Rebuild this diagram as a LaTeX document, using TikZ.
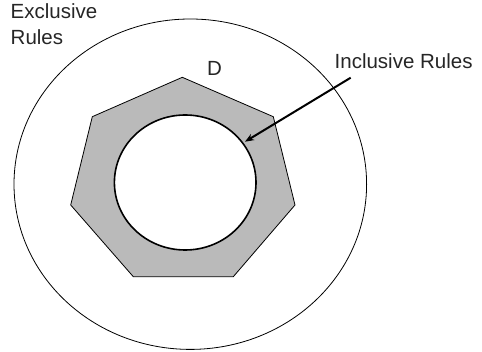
\documentclass[tikz,border=0pt]{standalone}
\usepackage{fontspec}
\setmainfont{Liberation Sans}
\usetikzlibrary{arrows.meta}

\tikzset{
  rulelabel/.style={inner sep=0pt, font=\fontsize{20.5}{25.3}\selectfont, align=left, text=black!85},
  zone/.style={draw, line width=0.8pt},
  band/.style={draw, line width=0.8pt, fill=black!27},
  core/.style={draw, line width=1.6pt, fill=white},
  pointer/.style={-{Stealth[length=9pt, width=7pt]}, line width=2pt}
}

\begin{document}
\begin{tikzpicture}[x=1pt, y=-1pt, >=Stealth]

    \useasboundingbox (0,0) rectangle (482,352);

    % outer region: exclusive rules
    \draw[zone] (190.3,184.2) ellipse [x radius=176.3, y radius=165.2];

    % shaded heptagon D
    \draw[band] (182.3,77.3) -- (273.3,116.7) -- (295,205) -- (233.3,276.7)
        -- (133.3,276.7) -- (70.7,205) -- (92.3,116.7) -- cycle;

    % inner circle
    \draw[core] (185.2,182.5) ellipse [x radius=70.8, y radius=67.5];

    % labels
    \node[rulelabel, anchor=base west] (excl) at (10.5,44.3) {Exclusive\\Rules};
    \node[rulelabel, anchor=base west] (dlab) at (207,75.7) {D};
    \node[rulelabel, anchor=base west] (incl) at (334.5,68.3) {Inclusive Rules};

    % arrow to the inner circle
    \coordinate (tail) at (350.7,77.7);
    \coordinate (tip) at (245,141.7);
    \draw[pointer] (tail) -- (tip);

\end{tikzpicture}
\end{document}
